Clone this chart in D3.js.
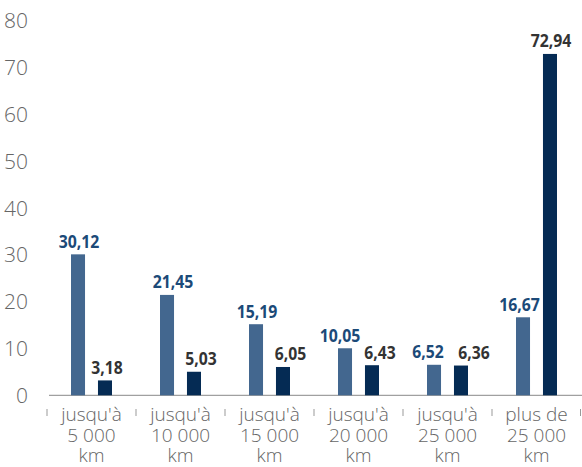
<!DOCTYPE html>
<html>
<head>
<meta charset="utf-8">
<title>Kilométrage</title>
<style>
  body { margin: 0; background: #fff; }
  .ylab { font-family: "Open Sans", sans-serif; font-weight: 300; font-size: 21px; fill: #666; }
  .xlab { font-family: "Open Sans", sans-serif; font-weight: 300; font-size: 19px; fill: #666; }
  .val { font-family: "Open Sans", sans-serif; font-weight: bold; font-size: 18.5px; }
</style>
<script src="https://d3js.org/d3.v7.min.js"></script>
</head>
<body>
<svg width="582" height="467"></svg>
<script>
var categories = [
  ["jusqu'à", "5 000", "km"],
  ["jusqu'à", "10 000", "km"],
  ["jusqu'à", "15 000", "km"],
  ["jusqu'à", "20 000", "km"],
  ["jusqu'à", "25 000", "km"],
  ["plus de", "25 000", "km"]
];
var seriesA = [30.12, 21.45, 15.19, 10.05, 6.52, 16.67];
var seriesB = [3.18, 5.03, 6.05, 6.43, 6.36, 72.94];
var yTicks = [0, 10, 20, 30, 40, 50, 60, 70, 80];

var barColors = ["#43678f", "#052b54"];
var labelColors = ["#1c4a78", "#333333"];
// hand placed label offsets seen in the original (px)
var nudge = [[1, 6, 1, -5, -6, -3.5], [2, 7, 7.5, 8, 13, 1]];

var svg = d3.select("svg");

var x = d3.scaleBand()
  .domain(d3.range(categories.length))
  .range([47, 581]);

var inner = d3.scaleBand()
  .domain([0, 1])
  .range([0, x.bandwidth()])
  .paddingInner(0.48)
  .paddingOuter(0.89);

var y = d3.scaleLinear().domain([0, 80]).range([395.3, 20.9]);

// y labels (no axis line)
svg.append("g").selectAll("text")
  .data(yTicks)
  .enter().append("text")
  .attr("class", "ylab")
  .attr("x", 28)
  .attr("y", function(d) { return y(d); })
  .attr("dy", "0.36em")
  .attr("text-anchor", "end")
  .text(function(d) { return d; });

// baseline
svg.append("line")
  .attr("x1", 49).attr("x2", 582)
  .attr("y1", y(0)).attr("y2", y(0))
  .attr("stroke", "#a0a0a0").attr("stroke-width", 1.2);

// detached ticks between categories
svg.append("g").selectAll("line")
  .data(d3.range(categories.length + 1))
  .enter().append("line")
  .attr("x1", function(i) { return Math.min(x.range()[0] + i * x.step(), 580.5); })
  .attr("x2", function(i) { return Math.min(x.range()[0] + i * x.step(), 580.5); })
  .attr("y1", 409).attr("y2", 416)
  .attr("stroke", "#999").attr("stroke-width", 1);

var rows = categories.map(function(c, i) {
  return [{ s: 0, i: i, v: seriesA[i] }, { s: 1, i: i, v: seriesB[i] }];
});

var groups = svg.append("g").selectAll("g")
  .data(rows)
  .enter().append("g")
  .attr("transform", function(d, i) { return "translate(" + x(i) + ",0)"; });

groups.selectAll("rect")
  .data(function(d) { return d; })
  .enter().append("rect")
  .attr("x", function(d) { return inner(d.s); })
  .attr("width", inner.bandwidth())
  .attr("y", function(d) { return y(d.v); })
  .attr("height", function(d) { return y(0) - y(d.v); })
  .attr("fill", function(d) { return barColors[d.s]; });

function fmt(v) { return d3.format(".2f")(v).replace(".", ","); }

// condensed look: squeeze bold text to the reference width
groups.selectAll("text.val")
  .data(function(d) { return d; })
  .enter().append("text")
  .attr("class", "val")
  .attr("x", function(d) { return inner(d.s) + inner.bandwidth() / 2 + nudge[d.s][d.i]; })
  .attr("y", function(d) { return y(d.v) - 6.5; })
  .attr("text-anchor", "middle")
  .attr("fill", function(d) { return labelColors[d.s]; })
  .text(function(d) { return fmt(d.v); })
  .attr("textLength", function(d) { return (fmt(d.v).length - 1) * 9.3 + 3.5; })
  .attr("lengthAdjust", "spacingAndGlyphs");

// category labels
svg.append("g").selectAll("text")
  .data(categories)
  .enter().append("text")
  .attr("class", "xlab")
  .attr("text-anchor", "middle")
  .attr("x", function(d, i) { return x(i) + x.bandwidth() / 2; })
  .selectAll("tspan")
  .data(function(d) { return d; })
  .enter().append("tspan")
  .attr("x", function() { return d3.select(this.parentNode).attr("x"); })
  .attr("y", function(d, j) { return 421 + j * 20.5; })
  .text(function(d) { return d; });
</script>
</body>
</html>
